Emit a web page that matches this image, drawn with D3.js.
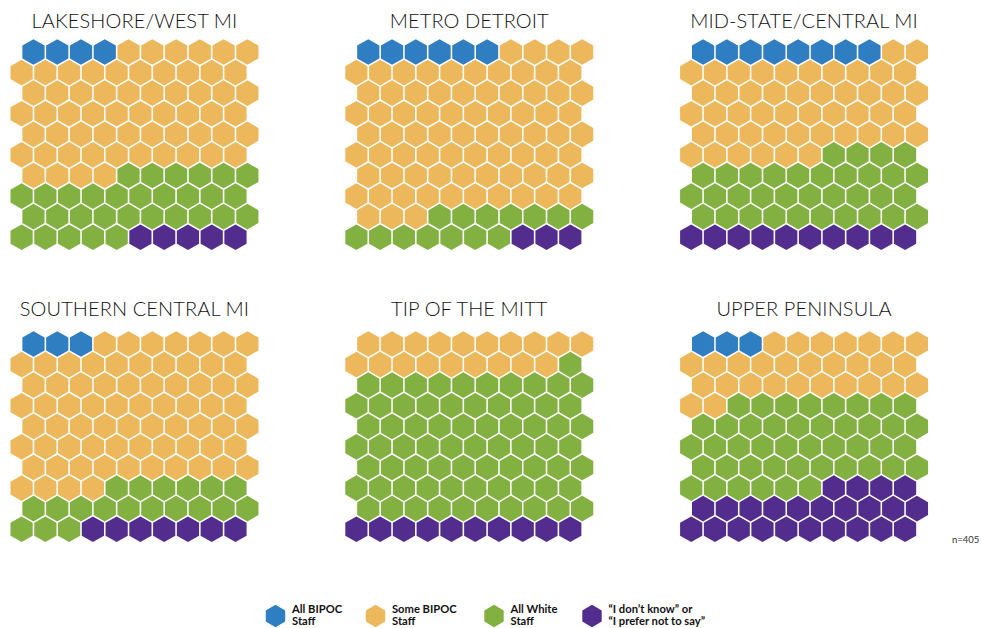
<!DOCTYPE html>
<html>
<head>
<meta charset="utf-8">
<script src="https://cdn.jsdelivr.net/npm/d3@7"></script>
<style>
  html, body { margin: 0; padding: 0; background: #fff; }
  svg { display: block; }
</style>
</head>
<body>
<svg id="chart" width="981" height="628"></svg>
<script>
// ---- data ----
const regions = ["LAKESHORE/WEST MI", "METRO DETROIT", "MID-STATE/CENTRAL MI",
                 "SOUTHERN CENTRAL MI", "TIP OF THE MITT", "UPPER PENINSULA"];
const categories = ["All BIPOC Staff", "Some BIPOC Staff", "All White Staff", "I don't know / prefer not to say"];
const allBipoc   = [4, 6, 8, 3, 0, 3];
const someBipoc  = [60, 77, 48, 71, 19, 29];
const allWhite   = [31, 14, 34, 19, 71, 44];
const dontKnow   = [5, 3, 10, 7, 10, 24];
const legendLines = [
  ["All BIPOC", "Staff"],
  ["Some BIPOC", "Staff"],
  ["All White", "Staff"],
  ["\u201CI don\u2019t know\u201D or", "\u201CI prefer not to say\u201D"]
];
const colors = ["#2F7EC1", "#EDB85C", "#82B041", "#532D8E"];
const sampleNote = "n=405";

// ---- layout ----
const svg = d3.select("#chart");
const R = 13.72;                       // hex circumradius (pitch)
const pitchX = Math.sqrt(3) * R;
const pitchY = 1.5 * R;
const cols = 10;

const color = d3.scaleOrdinal().domain(categories).range(colors);
const panelX = d3.scaleLinear().domain([0, 2]).range([21.6, 691.2]);
const panelY = d3.scaleLinear().domain([0, 1]).range([52, 344]);
const colX = d3.scaleLinear().domain([0, 1]).range([0, pitchX]);
const rowY = d3.scaleLinear().domain([0, 1]).range([0, pitchY]);

function hexPath(r) {
  const pts = d3.range(6).map(i => {
    const a = Math.PI / 180 * (60 * i - 90);
    return [r * Math.cos(a), r * Math.sin(a)];
  });
  return "M" + pts.map(p => p.join(",")).join("L") + "Z";
}
const hexD = hexPath(R - 0.9);

regions.forEach((name, i) => {
  const counts = [allBipoc[i], someBipoc[i], allWhite[i], dontKnow[i]];
  const cells = [];
  counts.forEach((c, k) => { for (let j = 0; j < c; j++) cells.push(categories[k]); });
  const px = panelX(i % 3), py = panelY(Math.floor(i / 3));
  const g = svg.append("g").attr("transform", `translate(${px},${py})`);

  g.selectAll("path.hex").data(cells).join("path")
    .attr("class", "hex")
    .attr("d", hexD)
    .attr("fill", d => color(d))
    .attr("transform", (d, idx) => {
      const r = Math.floor(idx / cols), c = idx % cols;
      const x = colX(c + (r % 2 === 0 ? 0.5 : 0));
      const y = rowY(r);
      return `translate(${x},${y})`;
    });

  const titleY = Math.floor(i / 3) === 0 ? 28.3 : 316;
  svg.append("text")
    .attr("x", px + colX(4.75))
    .attr("y", titleY)
    .attr("text-anchor", "middle")
    .attr("font-family", "Lato, 'DejaVu Sans', sans-serif")
    .attr("font-weight", 300)
    .attr("font-size", 20)
    .attr("letter-spacing", 0.1)
    .attr("fill", "#111")
    .text(name);
});

// n label
svg.append("text")
  .attr("x", 952).attr("y", 542.5)
  .attr("font-family", "Lato, 'DejaVu Sans', sans-serif")
  .attr("font-size", 9.5)
  .attr("fill", "#333")
  .text(sampleNote);

// legend
const legendX = [275.5, 375.5, 494, 592];
const legendY = 616;
const legendHex = hexPath(11.2);
const lg = svg.append("g");
categories.forEach((cat, k) => {
  const g = lg.append("g").attr("transform", `translate(${legendX[k]},${legendY})`);
  g.append("path").attr("d", legendHex).attr("fill", color(cat));
  const t = g.append("text")
    .attr("x", 16.5).attr("y", -2.8)
    .attr("font-family", "Lato, 'DejaVu Sans', sans-serif")
    .attr("font-weight", 700)
    .attr("font-size", 11.2)
    .attr("fill", "#111");
  legendLines[k].forEach((ln, li) => {
    t.append("tspan").attr("x", 16.5).attr("dy", li === 0 ? 0 : 12).text(ln);
  });
});
</script>
</body>
</html>
